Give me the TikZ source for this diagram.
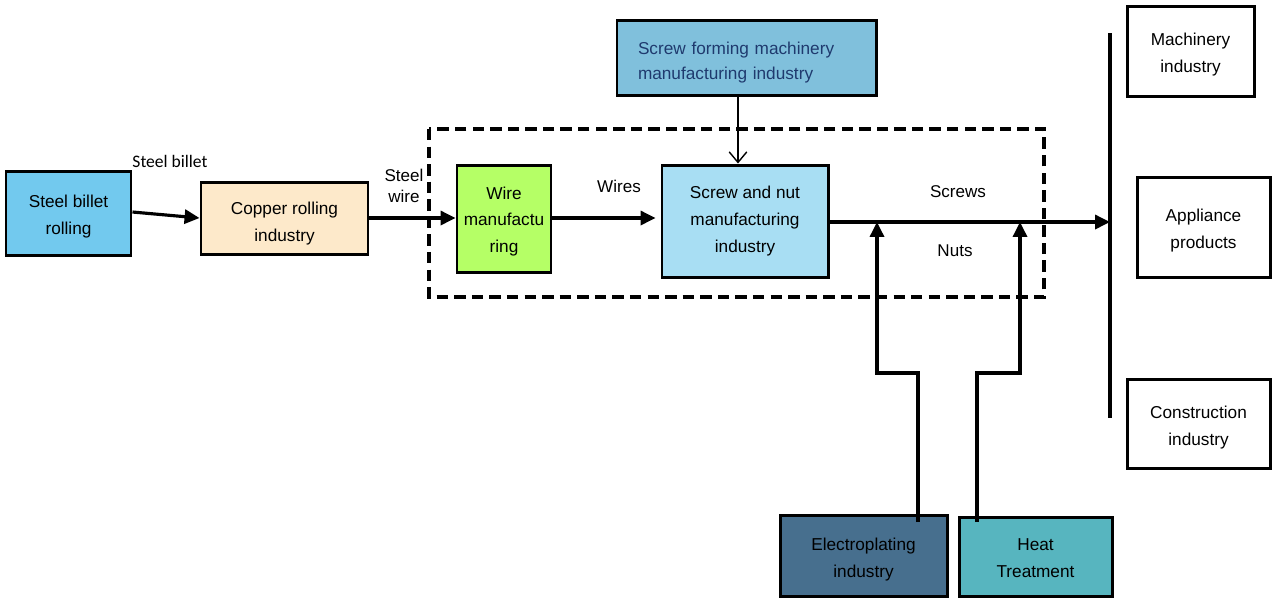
\documentclass[tikz,border=0pt]{standalone}
\usepackage{fontspec}
\setmainfont{Liberation Sans}
\newfontfamily\calib{Carlito}
\usetikzlibrary{arrows.meta}
\definecolor{cBillet}{HTML}{72C9EE}
\definecolor{cCopper}{HTML}{FDE9CA}
\definecolor{cWire}{HTML}{B5FF66}
\definecolor{cScrew}{HTML}{A8DEF3}
\definecolor{cForm}{HTML}{80C0DC}
\definecolor{cFormText}{HTML}{1F3A6E}
\definecolor{cElec}{HTML}{476F8E}
\definecolor{cHeat}{HTML}{57B5BF}
\newcommand{\lowerstrut}[1]{\rule{0pt}{#1}}
\begin{document}
\begin{tikzpicture}[x=0.02cm,y=-0.02cm,
  box/.style={draw=black,line width=1.7pt,align=center,inner sep=0pt,
    font=\fontsize{9.8}{15.3}\selectfont},
  flow/.style={line width=1.8pt,-{Triangle[length=8.5pt,width=8pt]}},
  lbl/.style={font=\fontsize{9.7}{12}\selectfont,align=center,inner sep=0pt}]
\useasboundingbox (0,0) rectangle (1272,600);
% boxes
\node[box,fill=cBillet,minimum width=125*0.02cm,minimum height=84*0.02cm] (billet) at (68.5,213) {\lowerstrut{11pt}Steel billet\\rolling};
\node[box,fill=cCopper,minimum width=167*0.02cm,minimum height=72*0.02cm] (copper) at (284.5,218) {\lowerstrut{13pt}Copper rolling\\industry};
\node[box,fill=cWire,minimum width=94*0.02cm,minimum height=107*0.02cm] (wire) at (504,218.5) {\lowerstrut{10.5pt}Wire\\manufactu\\ring};
\node[box,fill=cScrew,minimum width=166*0.02cm,minimum height=112*0.02cm] (screw) at (745,221) {Screw and nut\\manufacturing\\industry};
\node[box,fill=cForm,minimum width=259*0.02cm,minimum height=75*0.02cm,text width=217*0.02cm,align=left,text=cFormText,font=\fontsize{9.8}{14.2}\selectfont] (form) at (746.5,57.5) {\lowerstrut{12.5pt}Screw forming machinery\\manufacturing industry};
\node[box,fill=white,minimum width=127*0.02cm,minimum height=90*0.02cm] (mach) at (1190.5,51) {\lowerstrut{11.5pt}Machinery\\industry};
\node[box,fill=white,minimum width=133*0.02cm,minimum height=100*0.02cm] (appl) at (1203.5,227) {\lowerstrut{11.5pt}Appliance\\products};
\node[box,fill=white,minimum width=143*0.02cm,minimum height=89*0.02cm] (cons) at (1198.5,423.5) {\lowerstrut{11.5pt}Construction\\industry};
\node[box,fill=cElec,minimum width=167*0.02cm,minimum height=81*0.02cm] (elec) at (863.5,555.5) {\lowerstrut{12pt}Electroplating\\industry};
\node[box,fill=cHeat,minimum width=153*0.02cm,minimum height=79*0.02cm] (heat) at (1035.5,556.5) {\lowerstrut{9pt}Heat\\Treatment};
% dashed frame
\draw[line width=1.9pt,dash pattern=on 6.5pt off 3.5pt] (429,129) rectangle (1044,297);
% distribution bar
\coordinate (bartop) at (1110,33);
\coordinate (barbot) at (1110,418);
\draw[line width=1.8pt] (bartop) -- (barbot);
\coordinate (barmid) at (1110,222);
% flows
\draw[flow] (billet.east|-0,212) -- (copper.west|-0,218);
\draw[flow] (copper.east|-0,218) -- (wire.west|-0,218);
\draw[flow] (wire.east|-0,218) -- ([xshift=-5*0.02cm]screw.west|-0,218);
\draw[flow] (screw.east|-0,222) -- (barmid);
\draw[line width=0.8pt,-{Straight Barb[length=6pt,width=10pt]}] (form.south-|738,0) -- (screw.north-|738,0);
\coordinate (e1) at (918,522);
\coordinate (h1) at (977,522);
\draw[flow] (e1) -- (918,373) -- (877,373) -- (877,222);
\draw[flow] (h1) -- (977,373) -- (1020,373) -- (1020,222);
% labels
\node[lbl,font=\calib\fontsize{10}{12}\selectfont] (lb1) at (170,161) {Steel billet};
\node[lbl,font=\fontsize{9.7}{11.5}\selectfont] (lb2) at (404,186) {Steel\\wire};
\node[lbl] (lb3) at (619,186) {Wires};
\node[lbl] (lb4) at (958,192) {Screws};
\node[lbl] (lb5) at (955,251) {Nuts};
\end{tikzpicture}
\end{document}
